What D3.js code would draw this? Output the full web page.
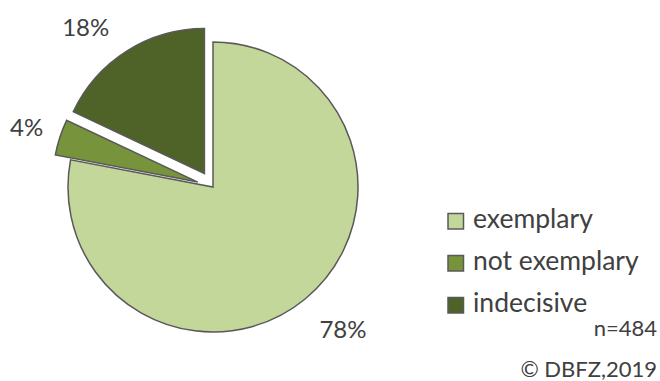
<!DOCTYPE html>
<html>
<head>
<meta charset="utf-8">
<script src="https://cdn.jsdelivr.net/npm/d3@7"></script>
<style>
  html, body { margin: 0; padding: 0; background: #fff; }
  svg { display: block; }
  text { font-family: Lato, "Open Sans", sans-serif; fill: #404040; }
</style>
</head>
<body>
<svg id="chart" width="660" height="381"></svg>
<script>
// Survey answers (share of respondents, %)
const categories = ["exemplary", "not exemplary", "indecisive"];
const shares = [78, 4, 18];
const colors = ["#C4D79B", "#77933C", "#4F6228"];
const sampleNote = "n=484";
const sourceNote = "\u00A9 DBFZ,2019";

const W = 660, H = 381;
const cx = 213, cy = 187, R = 145;
const explode = [0, 16, 16];      // pull-out distance per slice
const labelRadius = [192, 196, 205];
const labelAngleShift = [-3, 0, -6]; // degrees, keeps labels clear of the wedges

const svg = d3.select("#chart");

const data = categories.map((c, i) => ({ name: c, value: shares[i], color: colors[i], i }));

const pie = d3.pie().sort(null).value(d => d.value).startAngle(0).endAngle(2 * Math.PI);
const arcs = pie(data);
const arc = d3.arc().innerRadius(0).outerRadius(R);

const g = svg.append("g").attr("transform", `translate(${cx},${cy})`);

g.selectAll("path.slice")
  .data(arcs)
  .join("path")
  .attr("class", "slice")
  .attr("d", arc)
  .attr("fill", d => d.data.color)
  .attr("stroke", "#595959")
  .attr("stroke-width", 1.5)
  .attr("stroke-linejoin", "miter")
  .attr("transform", d => {
    const a = (d.startAngle + d.endAngle) / 2;
    const e = explode[d.data.i];
    return `translate(${e * Math.sin(a)},${-e * Math.cos(a)})`;
  });

// percentage labels outside each wedge
g.selectAll("text.pct")
  .data(arcs)
  .join("text")
  .attr("class", "pct")
  .attr("text-anchor", "middle")
  .attr("dominant-baseline", "central")
  .attr("font-size", 24)
  .attr("x", d => {
    const a = (d.startAngle + d.endAngle) / 2 + labelAngleShift[d.data.i] * Math.PI / 180;
    return labelRadius[d.data.i] * Math.sin(a);
  })
  .attr("y", d => {
    const a = (d.startAngle + d.endAngle) / 2 + labelAngleShift[d.data.i] * Math.PI / 180;
    return -labelRadius[d.data.i] * Math.cos(a);
  })
  .text(d => d.data.value + "%");

// legend
const legendY = d3.scalePoint().domain(categories).range([221, 305]);
const legend = svg.append("g").selectAll("g")
  .data(data)
  .join("g")
  .attr("transform", d => `translate(448,${legendY(d.name)})`);

legend.append("rect")
  .attr("x", 0).attr("y", -7.5)
  .attr("width", 15.5).attr("height", 15.5)
  .attr("fill", d => d.color)
  .attr("stroke", "#595959")
  .attr("stroke-width", 1.5);

legend.append("text")
  .attr("x", 25).attr("y", 6.5)
  .attr("font-size", 26.5)
  .text(d => d.name);

svg.append("text")
  .attr("x", 657).attr("y", 336)
  .attr("text-anchor", "end")
  .attr("font-size", 22)
  .text(sampleNote);

svg.append("text")
  .attr("x", 657).attr("y", 377)
  .attr("text-anchor", "end")
  .attr("font-size", 22)
  .text(sourceNote);
</script>
</body>
</html>
